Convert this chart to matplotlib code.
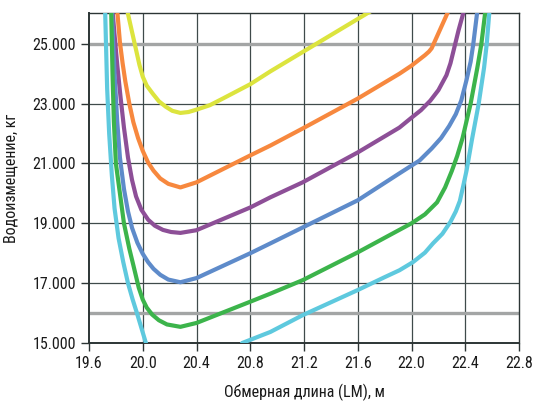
import numpy as np
import matplotlib
matplotlib.use("Agg")
import matplotlib.pyplot as plt
import matplotlib.font_manager as fm
from matplotlib.ticker import FuncFormatter

# узкий шрифт, если есть
installed = {f.name for f in fm.fontManager.ttflist}
font_size = 9.5
font_name = 'DejaVu Sans'
for name, size in [('Liberation Sans Narrow', 12), ('DejaVu Sans Condensed', 10.5),
                   ('Roboto Condensed', 11.5)]:
    if name in installed:
        font_name, font_size = name, size
        break
plt.rcParams['font.family'] = [font_name, 'DejaVu Sans']

# данные кривых (обмерная длина, м / водоизмещение, кг)
yellow_x = [19.885, 19.94, 19.975, 20.00, 20.03, 20.075, 20.12, 20.17, 20.22, 20.28, 20.34,
            20.40, 20.50, 20.60, 20.80, 20.95, 21.70]
yellow_y = [26100, 25000, 24300, 23900, 23600, 23330, 23080, 22900, 22760, 22690, 22720,
            22800, 22950, 23180, 23650, 24080, 26100]

orange_x = [19.81, 19.83, 19.85, 19.87, 19.90, 19.93, 19.965, 20.00, 20.04, 20.08, 20.13,
            20.19, 20.28, 20.40, 20.80, 20.95, 21.19, 21.60, 21.91, 22.00, 22.10, 22.13,
            22.15, 22.17, 22.275]
orange_y = [26100, 25050, 24350, 23750, 23000, 22380, 21850, 21420, 21030, 20760, 20500,
            20320, 20200, 20370, 21270, 21600, 22170, 23170, 24000, 24270, 24620, 24740,
            24850, 25050, 26100]

purple_x = [19.775, 19.79, 19.81, 19.835, 19.86, 19.89, 19.92, 19.95, 19.99, 20.04, 20.09,
            20.15, 20.21, 20.28, 20.40, 20.80, 20.95, 21.19, 21.60, 21.91, 22.00, 22.07,
            22.14, 22.20, 22.26, 22.29, 22.32, 22.35, 22.39]
purple_y = [26100, 25300, 24300, 23200, 22200, 21200, 20450, 19900, 19450, 19120, 18920,
            18780, 18710, 18680, 18770, 19530, 19870, 20370, 21370, 22200, 22530, 22780,
            23100, 23450, 23950, 24350, 24900, 25450, 26100]

blue_x = [19.77, 19.79, 19.81, 19.83, 19.86, 19.89, 19.92, 19.96, 20.00, 20.04, 20.08,
          20.13, 20.19, 20.28, 20.40, 20.80, 20.95, 21.60, 21.91, 22.06, 22.15, 22.22,
          22.28, 22.33, 22.37, 22.41, 22.44, 22.46, 22.49]
blue_y = [26100, 24000, 22400, 21200, 20150, 19400, 18850, 18350, 17980, 17700, 17480,
          17280, 17120, 17030, 17170, 18000, 18330, 19770, 20670, 21100, 21500, 21850,
          22250, 22650, 23100, 23800, 24400, 25000, 26100]

green_x = [19.765, 19.775, 19.785, 19.80, 19.83, 19.86, 19.90, 19.93, 19.97, 20.00, 20.03,
           20.07, 20.12, 20.18, 20.28, 20.40, 20.80, 20.95, 21.19, 21.60, 22.00, 22.10,
           22.19, 22.25, 22.30, 22.34, 22.38, 22.44, 22.49, 22.52, 22.55]
green_y = [26100, 24000, 22400, 21000, 20000, 19000, 18150, 17600, 16850, 16450, 16180,
           15950, 15760, 15620, 15540, 15670, 16380, 16650, 17100, 18030, 19000, 19300,
           19700, 20200, 20750, 21250, 21850, 23000, 24200, 25000, 26100]

cyan_left_x = [19.72, 19.735, 19.75, 19.77, 19.79, 19.82, 19.855, 19.89, 19.925, 19.96,
               20.00, 20.03]
cyan_left_y = [26100, 23500, 22000, 20600, 19500, 18500, 17700, 17000, 16450, 15950,
               15350, 14900]
cyan_right_x = [20.72, 20.74, 20.95, 21.19, 21.60, 21.80, 21.91, 22.01, 22.10, 22.16,
                22.23, 22.29, 22.33, 22.36, 22.385, 22.41, 22.45, 22.50, 22.54, 22.56, 22.58]
cyan_right_y = [14800, 15000, 15370, 15930, 16770, 17200, 17430, 17700, 18020, 18330,
                18650, 19050, 19400, 19750, 20250, 20770, 21800, 23000, 24200, 25000, 26100]

x_ticks = [19.6, 20.0, 20.4, 20.8, 21.2, 21.6, 22.0, 22.4, 22.8]
y_ticks = [15000, 17000, 19000, 21000, 23000, 25000]
ref_lines = [16000, 25000]

fig = plt.figure(figsize=(5.34, 4.05), dpi=100)
ax = fig.add_axes([0.1667, 0.1531, 0.8052, 0.8148])

grid_col = '#3f4a4a'
for x in x_ticks[1:-1]:
    ax.axvline(x, color=grid_col, lw=0.9, zorder=1)
for y in y_ticks[1:]:
    ax.axhline(y, color=grid_col, lw=0.9, zorder=1)
for y in ref_lines:
    ax.axhline(y, color='#a3a5a5', lw=2.4, zorder=2)

style = dict(lw=3.0, zorder=3, solid_joinstyle='round', solid_capstyle='butt')
ax.plot(yellow_x, yellow_y, color='#dce43e', **style)
ax.plot(orange_x, orange_y, color='#f7883e', **style)
ax.plot(purple_x, purple_y, color='#8d4f97', **style)
ax.plot(blue_x, blue_y, color='#5e8bca', **style)
ax.plot(green_x, green_y, color='#3cb44b', **style)
ax.plot(cyan_left_x, cyan_left_y, color='#5ec9de', **style)
ax.plot(cyan_right_x, cyan_right_y, color='#5ec9de', **style)

ax.set_xlim(19.6, 22.8)
ax.set_ylim(15000, 26030)
ax.set_xticks(x_ticks)
ax.set_yticks(y_ticks)
ax.xaxis.set_major_formatter(FuncFormatter(lambda v, p: f"{v:.1f}"))
ax.yaxis.set_major_formatter(FuncFormatter(lambda v, p: f"{int(v):,}".replace(',', '.')))
ax.tick_params(direction='out', length=5.5, width=1, color='#2c3535', labelsize=font_size,
               labelcolor='#1a1a1a', pad=4)

for s in ax.spines.values():
    s.set_color('#2c3535')
    s.set_linewidth(1.0)
ax.spines['left'].set_linewidth(1.4)
ax.spines['bottom'].set_linewidth(1.4)

ax.set_xlabel('Обмерная длина (LM), м', fontsize=font_size, color='#1a1a1a', labelpad=9)
ax.set_ylabel('Водоизмещение, кг', fontsize=font_size, color='#1a1a1a')
ax.yaxis.set_label_coords(-0.163, 0.5)

fig.savefig('out.png', dpi=100)
